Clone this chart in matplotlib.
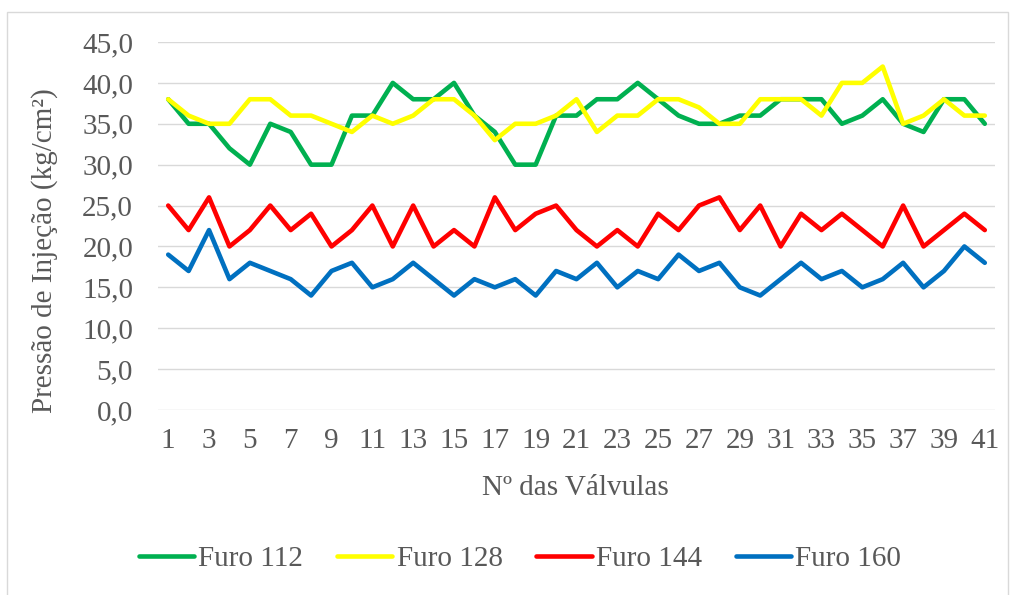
import matplotlib.pyplot as plt
from matplotlib.patches import Rectangle

# --- Data ---------------------------------------------------------------------
valvulas = list(range(1, 42))

furo_112 = [38, 35, 35, 32, 30, 35, 34, 30, 30, 36, 36, 40, 38, 38, 40, 36, 34, 30, 30, 36, 36,
            38, 38, 40, 38, 36, 35, 35, 36, 36, 38, 38, 38, 35, 36, 38, 35, 34, 38, 38, 35]
furo_128 = [38, 36, 35, 35, 38, 38, 36, 36, 35, 34, 36, 35, 36, 38, 38, 36, 33, 35, 35, 36, 38,
            34, 36, 36, 38, 38, 37, 35, 35, 38, 38, 38, 36, 40, 40, 42, 35, 36, 38, 36, 36]
furo_144 = [25, 22, 26, 20, 22, 25, 22, 24, 20, 22, 25, 20, 25, 20, 22, 20, 26, 22, 24, 25, 22,
            20, 22, 20, 24, 22, 25, 26, 22, 25, 20, 24, 22, 24, 22, 20, 25, 20, 22, 24, 22]
furo_160 = [19, 17, 22, 16, 18, 17, 16, 14, 17, 18, 15, 16, 18, 16, 14, 16, 15, 16, 14, 17, 16,
            18, 15, 17, 16, 19, 17, 18, 15, 14, 16, 18, 16, 17, 15, 16, 18, 15, 17, 20, 18]

series_labels = ['Furo 112', 'Furo 128', 'Furo 144', 'Furo 160']
series_colors = ['#00B050', '#FFFF00', '#FF0000', '#0070C0']

y_ticks = [0, 5, 10, 15, 20, 25, 30, 35, 40, 45]
y_ticklabels = ['0,0', '5,0', '10,0', '15,0', '20,0', '25,0', '30,0', '35,0', '40,0', '45,0']
x_ticks = list(range(1, 42, 2))

# --- Style --------------------------------------------------------------------
SERIF = ['Liberation Serif', 'DejaVu Serif']
FS = 21
plt.rcParams.update({
    'font.family': SERIF,
    'font.size': FS,
    'text.color': '#595959',
})

W, H = 1014, 595
fig = plt.figure(figsize=(W / 100, H / 100), dpi=100)
ax = fig.add_axes([158 / W, 1 - 410 / H, (995 - 158) / W, (410 - 42) / H])

for vals, lab, col in zip([furo_112, furo_128, furo_144, furo_160], series_labels, series_colors):
    ax.plot(valvulas, vals, color=col, linewidth=3.3, label=lab,
            solid_joinstyle='round', solid_capstyle='round')

ax.set_xlim(0.5, 41.5)
ax.set_ylim(0, 45)
ax.set_yticks(y_ticks)
ax.set_yticklabels(y_ticklabels)
ax.set_xticks(x_ticks)
ax.tick_params(axis='both', length=0, colors='#595959', labelsize=FS)
ax.tick_params(axis='y', pad=18)
ax.tick_params(axis='x', pad=13)
ax.grid(axis='y', color='#D9D9D9', linewidth=1.0)
ax.set_axisbelow(True)
for s in ax.spines.values():
    s.set_visible(False)

# axis titles
fig.text(45 / W, 1 - 251 / H, 'Pressão de Injeção (kg/cm²)', rotation=90,
         ha='center', va='center', fontsize=FS, color='#595959')
fig.text(575 / W, 1 - 488 / H, 'Nº das Válvulas', ha='center', va='center',
         fontsize=FS, color='#595959')

# chart area border
fig.patches.append(Rectangle((7 / W, -0.01), (1008 - 7) / W, 1 - 12 / H + 0.01,
                             transform=fig.transFigure, fill=False,
                             edgecolor='#D9D9D9', linewidth=1.0))

leg = fig.legend(loc='center', bbox_to_anchor=(520 / W, 1 - 559 / H), ncol=4,
                 frameon=False, prop={'family': SERIF, 'size': FS},
                 handlelength=1.9, handletextpad=0.15,
                 columnspacing=1.15, borderaxespad=0)
for t in leg.get_texts():
    t.set_color('#595959')

fig.savefig('out.png', dpi=100)
